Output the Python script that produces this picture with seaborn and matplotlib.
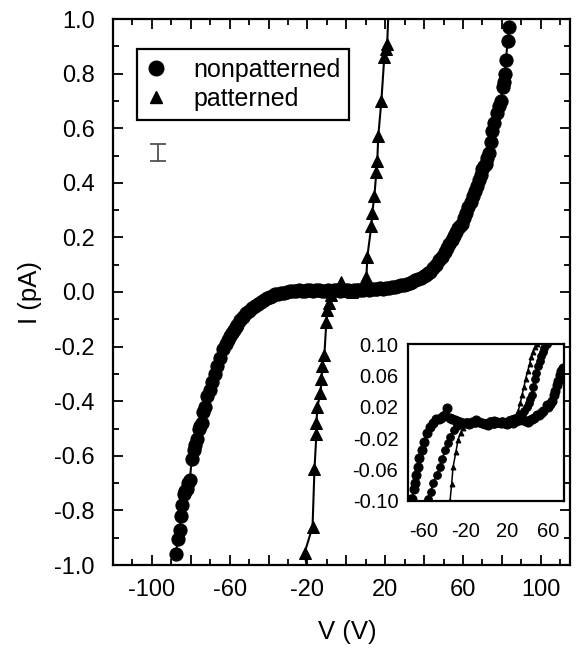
import numpy as np
import pandas as pd
import matplotlib
matplotlib.use("Agg")
import matplotlib.pyplot as plt
from matplotlib.lines import Line2D
from matplotlib.ticker import MultipleLocator, FuncFormatter, FixedLocator
import seaborn as sns

####################################
# data
####################################

# nonpatterned (circles), main panel
np_v = [-87.7, -86.7, -85.8, -85.0, -84.6, -83.6, -82.8, -82.0, -81.2, -80.5,
        -79.5, -78.6, -77.8, -77.0, -76.0, -75.2, -74.4, -73.6, -72.8, -71.5,
        -70.3, -69.0, -67.7, -66.5, -65.1, -63.5, -62.0, -61.0, -60.0, -59.0,
        -58.0, -57.0, -56.0, -54.5, -53.3, -51.5,
        -50.0, -48.5, -47.0, -45.5, -44.0, -42.5, -41.0, -39.5, -38.0, -36.5,
        -35.0, -33.5, -32.0, -30.5, -29.0, -27.5, -26.0, -24.5, -23.0, -21.5,
        -20.0, -18.5, -17.0, -15.5, -14.0, -12.5, -11.0, -9.5, -8.0, -6.5,
        -5.0, -3.5, -2.0, -0.5, 1.0, 2.5, 4.0, 5.5, 7.0, 8.5,
        10.0, 11.5, 13.0, 14.5, 16.0, 17.5, 19.0, 20.5, 22.0, 23.5,
        25.0, 26.5, 28.0, 29.5, 31.0, 32.5, 34.0, 35.5, 37.0, 38.5,
        40.0, 41.0, 42.0, 43.0, 44.5, 46.0, 47.7, 49.0, 50.5, 52.0,
        53.0, 54.4, 55.5, 56.5, 57.5, 58.5, 59.5, 60.5, 61.5, 62.5,
        64.0, 65.0, 66.0, 67.0, 68.2, 69.0, 70.0, 71.0, 71.8, 72.5,
        73.3, 74.2, 74.9, 76.0, 77.4, 78.5, 79.5, 80.5, 81.0, 81.5,
        82.0, 83.0, 83.6]
np_i = [-0.960, -0.905, -0.870, -0.820, -0.780, -0.740, -0.730, -0.720, -0.700, -0.690,
        -0.610, -0.580, -0.560, -0.540, -0.500, -0.490, -0.480, -0.440, -0.420, -0.380,
        -0.360, -0.330, -0.300, -0.270, -0.240, -0.210, -0.190, -0.175, -0.160, -0.150,
        -0.140, -0.128, -0.120, -0.104, -0.090, -0.078,
        -0.068, -0.060, -0.052, -0.043, -0.036, -0.028, -0.022, -0.017, -0.013, -0.009,
        -0.006, -0.003, -0.002, 0.000, 0.002, 0.003, 0.004, 0.006, 0.004, 0.005,
        0.007, 0.006, 0.004, 0.007, 0.006, 0.003, 0.005, 0.007, 0.004, 0.006,
        0.008, 0.005, 0.007, 0.006, 0.008, 0.005, 0.009, 0.007, 0.009, 0.006,
        0.010, 0.008, 0.010, 0.012, 0.011, 0.013, 0.012, 0.015, 0.014, 0.017,
        0.019, 0.021, 0.024, 0.027, 0.030, 0.034, 0.038, 0.043, 0.047, 0.052,
        0.058, 0.063, 0.068, 0.075, 0.088, 0.100, 0.117, 0.130, 0.145, 0.160,
        0.175, 0.190, 0.205, 0.220, 0.235, 0.242, 0.250, 0.270, 0.290, 0.310,
        0.330, 0.350, 0.370, 0.390, 0.410, 0.430, 0.450, 0.462, 0.470, 0.490,
        0.510, 0.550, 0.590, 0.620, 0.655, 0.680, 0.700, 0.750, 0.770, 0.800,
        0.850, 0.920, 0.970]

# patterned (triangles), main panel
pt_v = [-21.5, -17.4, -16.4, -15.4, -15.4, -14.9, -13.3, -12.8, -12.3, -11.3,
        -10.3, -9.7, -8.7, -7.7, -5.0, -2.6, 0.0, 3.0, 6.0, 9.7,
        10.3, 10.8, 12.8, 13.3, 14.4, 15.4, 15.9, 16.4, 18.0, 19.5,
        20.5, 21.0]
pt_i = [-0.956, -0.86, -0.65, -0.52, -0.48, -0.42, -0.37, -0.32, -0.27, -0.23,
        -0.11, -0.066, -0.04, -0.01, 0.01, 0.036, 0.005, 0.0, 0.01, 0.04,
        0.055, 0.13, 0.24, 0.29, 0.35, 0.44, 0.48, 0.57, 0.70, 0.86,
        0.89, 0.91]
# line of the patterned curve running off the top and bottom edges
pt_top_v = [21.0, 21.6]
pt_top_i = [0.91, 1.02]
pt_bot_v = [-21.5, -20.0]
pt_bot_i = [-0.956, -1.02]

# inset curves
in_a_v = [-74, -72.5, -71, -69.5, -68.6, -67, -65.7, -64, -62, -60,
          -57, -54, -51, -48, -45, -43, -41, -39, -37.5, -35,
          -33, -30, -28, -25, -22, -19, -16, -13, -10, -7,
          -4, -1, 2, 5, 8, 11, 14, 17, 20, 23,
          26, 29, 32, 35.6, 38, 40, 42, 44, 46.5, 49,
          51, 53, 55, 58.6, 60, 61.5, 63, 65, 66.5, 68,
          69.5, 71, 72.5, 74]
in_a_i = [-0.100, -0.098, -0.097, -0.085, -0.077, -0.067, -0.057, -0.045, -0.035, -0.025,
          -0.013, -0.006, 0.000, 0.004, 0.005, 0.006, 0.008, 0.010, 0.018, 0.006,
          0.004, 0.003, 0.002, 0.001, 0.000, -0.001, -0.002, 0.001, 0.003, 0.001,
          0.000, -0.002, -0.003, 0.000, 0.002, 0.001, 0.000, -0.001, -0.002, 0.001,
          0.000, 0.002, 0.003, 0.003, 0.002, 0.001, 0.003, 0.004, 0.006, 0.010,
          0.009, 0.012, 0.015, 0.022, 0.020, 0.024, 0.028, 0.035, 0.040, 0.048,
          0.053, 0.060, 0.066, 0.070]

in_b_v = [-55.7, -53, -50.9, -47.5, -44, -42, -39.4, -37, -34.6, -31,
          -28, -25, -22, -18, -15, -11, -8, -4, 0, 4,
          8, 11, 15, 18, 22, 25, 28, 30.5, 33, 35,
          37, 39, 41, 42.5, 44, 45.5, 47, 48.5, 50, 51.5,
          53, 54.5, 56, 58.6, 60]
in_b_i = [-0.097, -0.088, -0.077, -0.067, -0.057, -0.047, -0.035, -0.026, -0.018, -0.010,
          -0.005, -0.002, 0.000, 0.001, -0.002, 0.000, 0.001, -0.001, 0.000, 0.002,
          -0.002, 0.000, 0.002, 0.001, 0.003, 0.004, 0.006, 0.007, 0.008, 0.011,
          0.015, 0.020, 0.025, 0.030, 0.035, 0.045, 0.055, 0.063, 0.072, 0.078,
          0.085, 0.090, 0.095, 0.100, 0.106]

in_c_v = [-34.6, -33, -31.7, -29, -26.9, -24.5, -22, -18, -14, -10,
          -5, 0, 5, 10, 15, 20, 24, 28, 31, 33,
          34.6, 36.5, 38, 40, 42, 43.5, 45, 47, 49, 50]
in_c_i = [-0.100, -0.078, -0.057, -0.038, -0.022, -0.013, -0.007, -0.002, 0.000, 0.000,
          0.001, -0.002, 0.000, 0.001, 0.000, 0.002, 0.003, 0.006, 0.015, 0.025,
          0.035, 0.045, 0.055, 0.065, 0.075, 0.083, 0.090, 0.096, 0.100, 0.105]

main_xticks = [-100, -60, -20, 20, 60, 100]
inset_xticks = [-60, -20, 20, 60]
inset_yticks = [-0.10, -0.06, -0.02, 0.02, 0.06, 0.10]

####################################
# style
####################################

sns.set_style("ticks")
plt.rcParams['font.family'] = ['Liberation Sans', 'DejaVu Sans']
plt.rcParams['axes.unicode_minus'] = False
plt.rcParams['axes.linewidth'] = 1.6
for key in ['text.color', 'axes.labelcolor', 'xtick.color', 'ytick.color',
            'axes.edgecolor']:
    plt.rcParams[key] = 'black'

fig = plt.figure(figsize=(5.81, 6.48), dpi=100)
ax = fig.add_axes([113 / 581, 1 - 565 / 648, 457 / 581, 546 / 648])

####################################
# main panel
####################################

sns.lineplot(x=np_v, y=np_i, sort=False, estimator=None, ax=ax, color='black',
             linewidth=1.5, marker='o', markersize=9.5, markeredgecolor='black')
sns.lineplot(x=pt_v, y=pt_i, sort=False, estimator=None, ax=ax, color='black',
             linewidth=1.5, marker='^', markersize=8.5, markeredgecolor='black')
sns.lineplot(x=pt_top_v, y=pt_top_i, sort=False, estimator=None, ax=ax,
             color='black', linewidth=1.5)
sns.lineplot(x=pt_bot_v, y=pt_bot_i, sort=False, estimator=None, ax=ax,
             color='black', linewidth=1.5)

ax.errorbar([-97], [0.511], yerr=[0.031], color='#444444', capsize=6, lw=1.2,
            capthick=1.2, fmt='none')

ax.set_xlim(-120, 115)
ax.set_ylim(-1.0, 1.0)

ax.xaxis.set_major_locator(MultipleLocator(20))
ax.xaxis.set_minor_locator(MultipleLocator(10))
ax.xaxis.set_major_formatter(FuncFormatter(
    lambda v, p: f"{int(round(v))}" if int(round(v)) in main_xticks else ""))
ax.yaxis.set_major_locator(MultipleLocator(0.2))
ax.yaxis.set_minor_locator(MultipleLocator(0.1))
ax.yaxis.set_major_formatter(FuncFormatter(lambda v, p: f"{v:.1f}"))

ax.tick_params(which='both', direction='in', top=True, right=True, width=1.3,
               labelsize=17)
ax.tick_params(which='major', length=7)
ax.tick_params(which='minor', length=4)
ax.tick_params(axis='y', which='major', pad=13)
ax.tick_params(axis='x', which='major', pad=10)

ax.set_xlabel('V (V)', fontsize=18.5)
ax.set_ylabel('I (pA)', fontsize=18.5)
ax.xaxis.set_label_coords(0.512, -0.10)
ax.yaxis.set_label_coords(-0.155, 0.5)

handles = [
    Line2D([], [], linestyle='none', marker='o', color='black', markersize=10.5),
    Line2D([], [], linestyle='none', marker='^', color='black', markersize=8.5),
]
leg = ax.legend(handles, ['nonpatterned', 'patterned'], loc='upper left',
                bbox_to_anchor=(0.0525, 0.945), borderaxespad=0, fontsize=18,
                frameon=True, fancybox=False, framealpha=1, edgecolor='black',
                borderpad=0.35, labelspacing=0.2, handlelength=0.8,
                handletextpad=1.1)
leg.get_frame().set_linewidth(1.6)

####################################
# inset
####################################

axin = fig.add_axes([408 / 581, 1 - 501 / 648, 156 / 581, 157 / 648])
sns.lineplot(x=in_a_v, y=in_a_i, sort=False, estimator=None, ax=axin,
             color='black', linewidth=1.3, marker='o', markersize=6.5,
             markeredgecolor='black')
sns.lineplot(x=in_b_v, y=in_b_i, sort=False, estimator=None, ax=axin,
             color='black', linewidth=1.3, marker='o', markersize=5.5,
             markeredgecolor='black')
sns.lineplot(x=in_c_v, y=in_c_i, sort=False, estimator=None, ax=axin,
             color='black', linewidth=1.1, marker='^', markersize=3.5,
             markeredgecolor='black')

axin.set_xlim(-75, 75)
axin.set_ylim(-0.1, 0.1)
axin.xaxis.set_major_locator(FixedLocator(inset_xticks))
axin.yaxis.set_major_locator(FixedLocator(inset_yticks))
axin.yaxis.set_major_formatter(FuncFormatter(lambda v, p: f"{v:.2f}"))
axin.tick_params(length=0, labelsize=14.5)
axin.tick_params(axis='y', pad=7)
axin.tick_params(axis='x', pad=15)
axin.set_xlabel('')
axin.set_ylabel('')

plt.savefig("out.png", dpi=100)
